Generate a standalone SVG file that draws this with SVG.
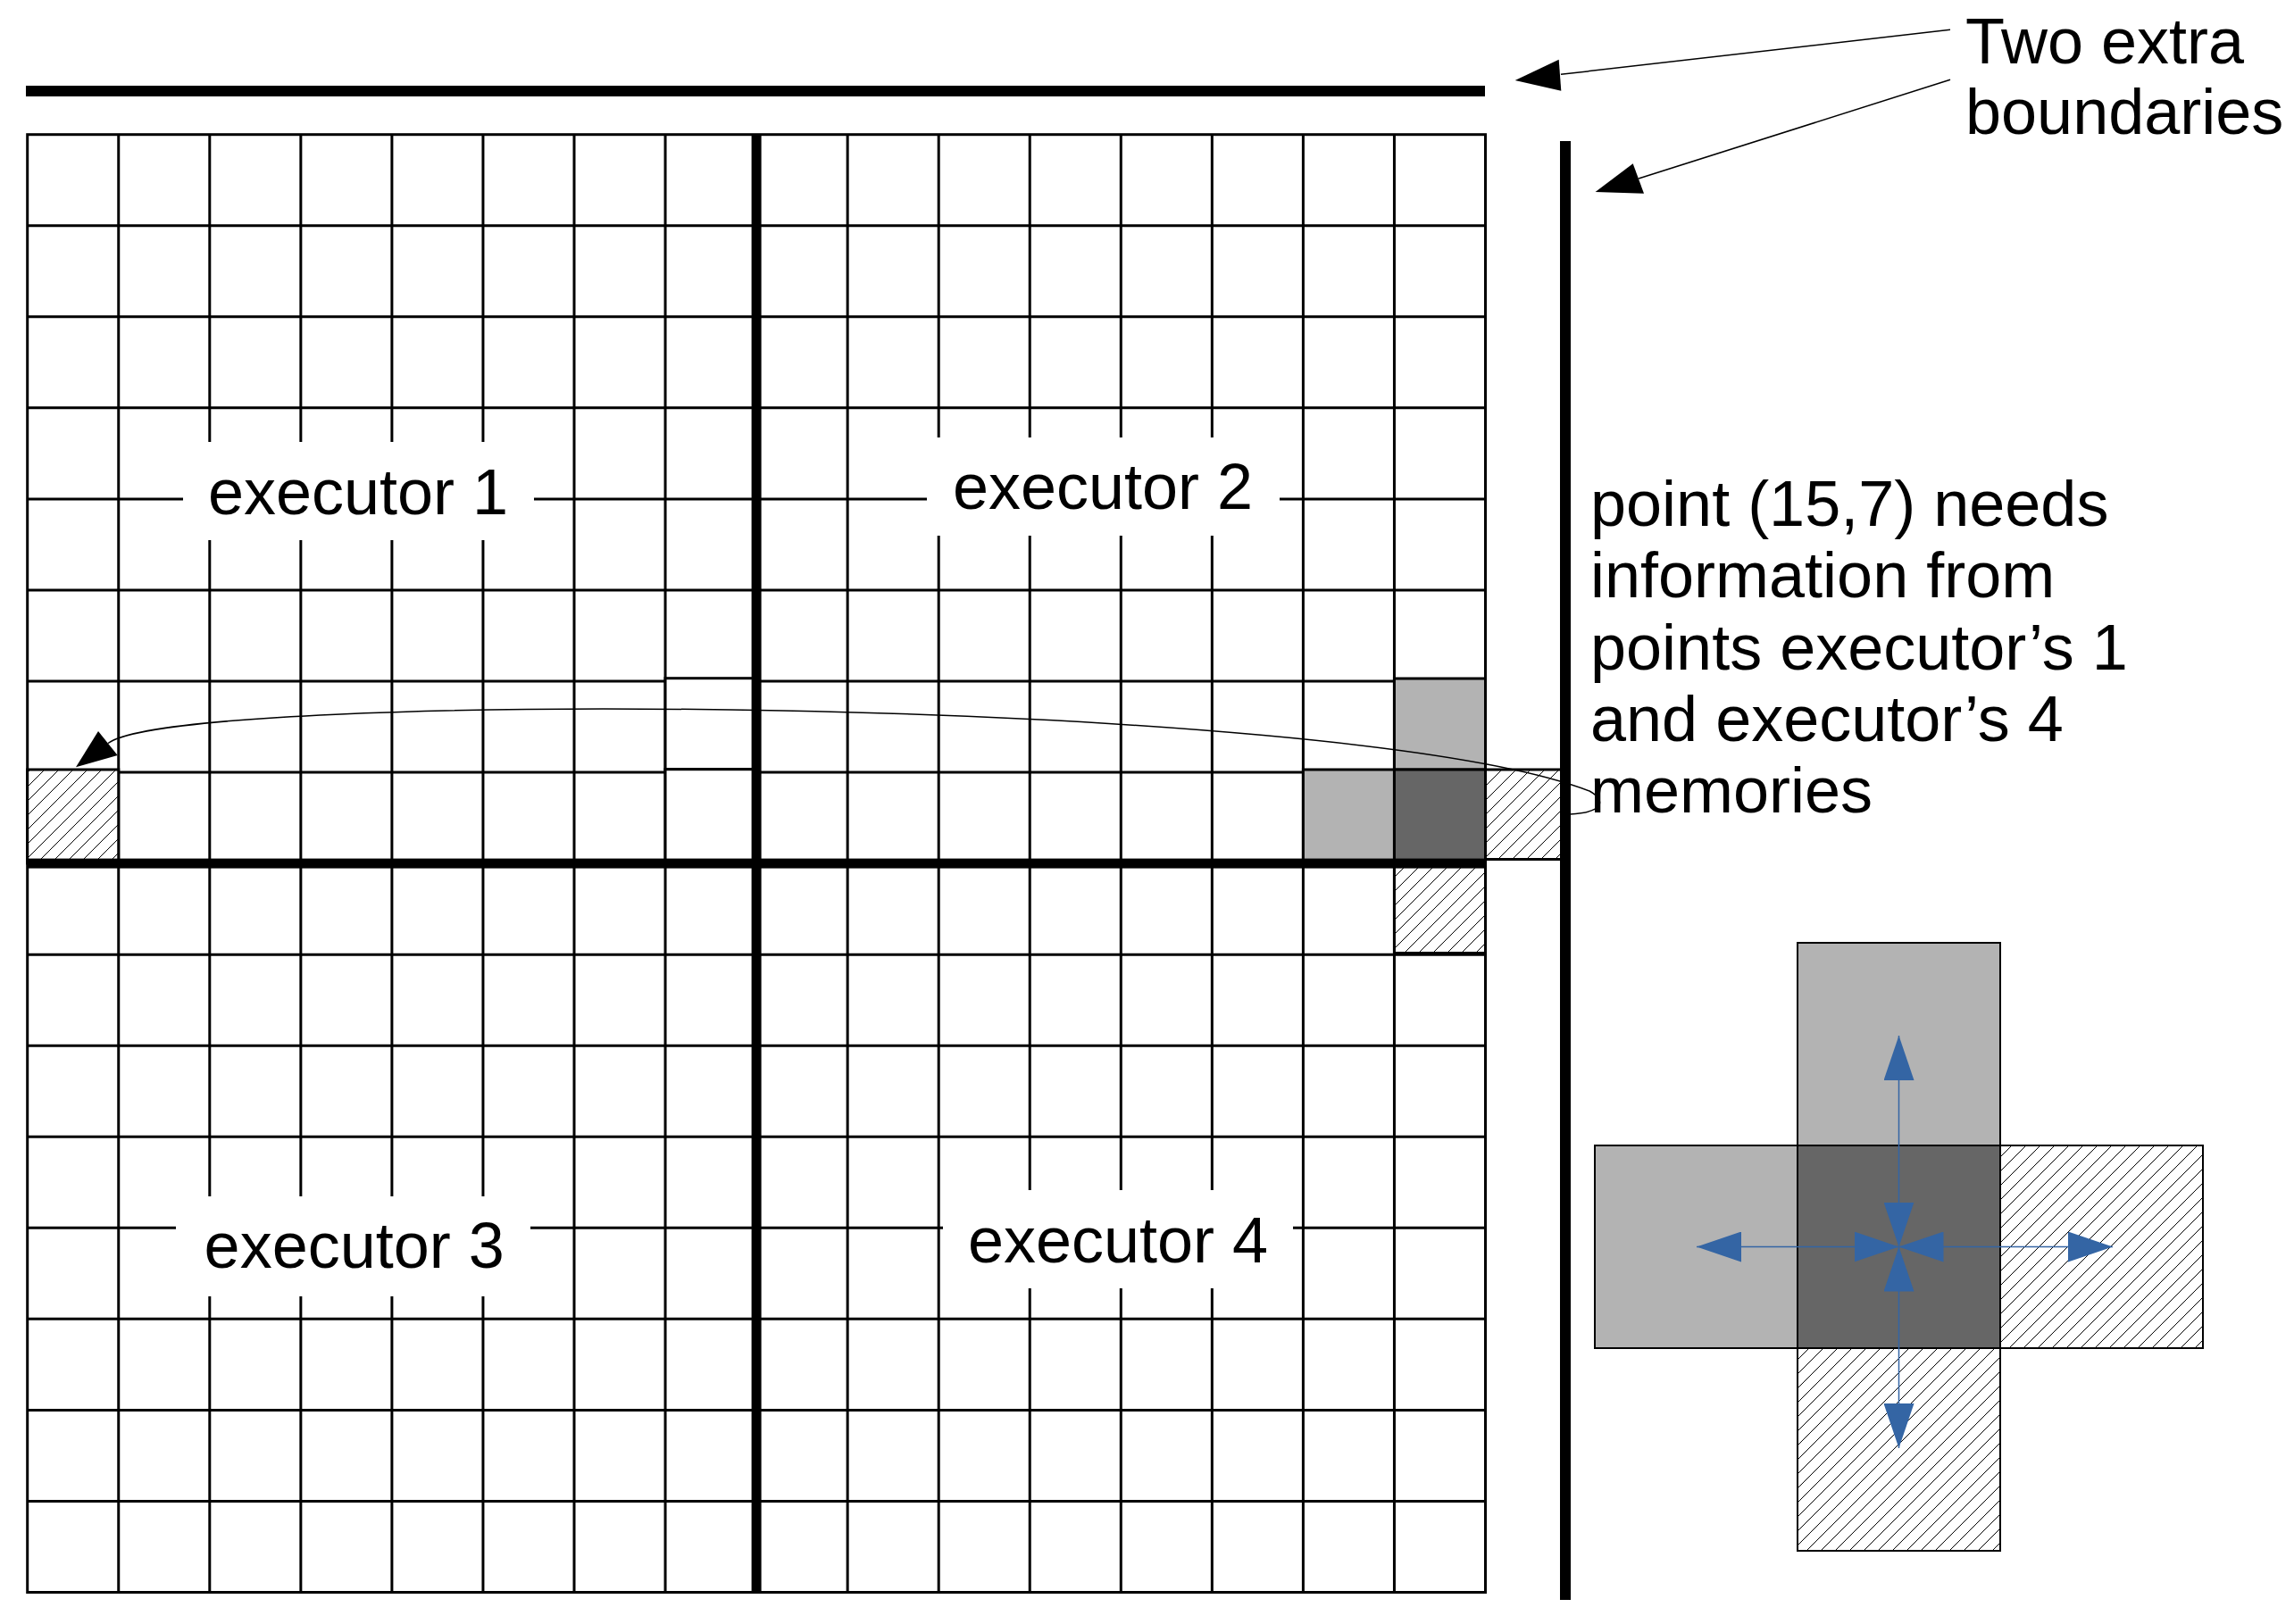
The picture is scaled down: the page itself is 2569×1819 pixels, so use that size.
<svg xmlns="http://www.w3.org/2000/svg" width="2569" height="1819" viewBox="0 0 2569 1819">
<style>
.t{font-family:"Liberation Sans",Arial,sans-serif;font-size:72px;fill:#000}
.grid{fill:none;stroke:#000;stroke-width:3}
.cell{stroke:#000;stroke-width:3}
.lg{fill:#b3b3b3}
.dg{fill:#666666}
.wh{fill:#fff}
.ht{fill:url(#hatch)}
.thin{fill:none;stroke:#000;stroke-width:1.5}
.blue{fill:none;stroke:#3465a4;stroke-width:1.5;marker-start:url(#bh);marker-end:url(#bh)}
.xc{stroke:#000;stroke-width:2}
</style>
<defs>
<pattern id="hatch" patternUnits="userSpaceOnUse" width="16" height="16">
<rect width="16" height="16" fill="#fff"/>
<path d="M-4,4 L4,-4 M0,16 L16,0 M12,20 L20,12" stroke="#000" stroke-width="1"/>
</pattern>
<marker id="bh" viewBox="0 0 50 34" refX="50" refY="17" markerWidth="50" markerHeight="34" markerUnits="userSpaceOnUse" orient="auto-start-reverse">
<path d="M0,0 L50,17 L0,34 z" fill="#3465a4"/>
</marker>
</defs>
<rect width="2569" height="1819" fill="#fff"/>

<g id="grid">
<rect class="grid" x="30.7" y="150.7" width="1632.8" height="1632.8"/>
<path class="grid" d="M132.75 150.7V1783.5M234.8 150.7V1783.5M336.85 150.7V1783.5M438.9 150.7V1783.5M540.95 150.7V1783.5M643 150.7V1783.5M745.05 150.7V1783.5M949.15 150.7V1783.5M1051.2 150.7V1783.5M1153.25 150.7V1783.5M1255.3 150.7V1783.5M1357.35 150.7V1783.5M1459.4 150.7V1783.5M1561.45 150.7V1783.5
M30.7 252.75H1663.5M30.7 354.8H1663.5M30.7 456.85H1663.5M30.7 558.9H1663.5M30.7 660.95H1663.5M30.7 763H1663.5M30.7 865.05H1663.5M30.7 1069.15H1663.5M30.7 1171.2H1663.5M30.7 1273.25H1663.5M30.7 1375.3H1663.5M30.7 1477.35H1663.5M30.7 1579.4H1663.5M30.7 1681.45H1663.5"/>
</g>

<g id="cells">
<rect class="cell wh" x="745.05" y="759.7" width="102.05" height="102"/>
<rect class="cell wh" x="745.05" y="861.7" width="102.05" height="102"/>
<rect class="cell ht" x="30.7" y="862" width="102.05" height="105"/>
<rect class="cell lg" x="1561.45" y="760" width="102.05" height="102"/>
<rect class="cell lg" x="1459.4" y="862" width="102.05" height="104"/>
<rect class="cell dg" x="1561.45" y="862" width="102.05" height="104"/>
<rect class="cell ht" x="1663.5" y="862" width="86" height="100.5"/>
<rect class="cell ht" x="1561.45" y="967" width="102.05" height="100.5"/>
</g>

<g id="boundaries">
<rect x="841.6" y="150.7" width="11" height="1632.8" fill="#000"/>
<rect x="30.7" y="961.6" width="1632.8" height="11" fill="#000"/>
<rect id="extra-top" x="29" y="96" width="1634" height="12" fill="#000"/>
<rect id="extra-right" x="1747" y="158" width="12" height="1634" fill="#000"/>
</g>

<g id="executor1">
<rect x="205" y="495" width="393" height="110" fill="#fff"/>
<text class="t" x="401" y="575.7" text-anchor="middle">executor 1</text>
</g>
<g id="executor2">
<rect x="1038" y="490" width="395" height="110" fill="#fff"/>
<text class="t" x="1235" y="570" text-anchor="middle">executor 2</text>
</g>
<g id="executor3">
<rect x="197" y="1340" width="397" height="112" fill="#fff"/>
<text class="t" x="396.7" y="1420" text-anchor="middle">executor 3</text>
</g>
<g id="executor4">
<rect x="1056" y="1333" width="392" height="110" fill="#fff"/>
<text class="t" x="1252" y="1414" text-anchor="middle">executor 4</text>
</g>

<g id="label-boundaries">
<text class="t" x="2201" y="71">Two extra</text>
<text class="t" x="2201" y="150">boundaries</text>
</g>

<g id="label-point">
<text class="t" x="1781" y="589">point (15,7) needs</text>
<text class="t" x="1781" y="669.3">information from</text>
<text class="t" x="1781" y="749.6">points executor’s 1</text>
<text class="t" x="1781" y="829.9">and executor’s 4</text>
<text class="t" x="1781" y="910.2">memories</text>
</g>

<g id="stencil">
<rect class="xc lg" x="2013" y="1056" width="227" height="227"/>
<rect class="xc lg" x="1786" y="1283" width="227" height="227"/>
<rect class="xc dg" x="2013" y="1283" width="227" height="227"/>
<rect class="xc ht" x="2240" y="1283" width="227" height="227"/>
<rect class="xc ht" x="2013" y="1510" width="227" height="227"/>
</g>

<g id="connectors">
<path class="thin" d="M2184,33.3 L1748,83.3"/>
<polygon points="1696.7,90 1745.7,66.7 1748.3,101.7" fill="#000"/>
<path class="thin" d="M2184,89.3 L1835,200"/>
<polygon points="1786.6,215 1828.7,183.3 1841,216.7" fill="#000"/>
<path class="thin" d="M1758,912 C1795,910 1800,897 1780,886 C1501,778 203,772 121,832.5"/>
<polygon points="85,859.3 110,819 131.7,846" fill="#000"/>
<path class="blue" d="M2126.5,1396.5 L2126.5,1160"/>
<path class="blue" d="M2126.5,1396.5 L2126.5,1622"/>
<path class="blue" d="M2126.5,1396.5 L1900,1396.5"/>
<path class="blue" d="M2126.5,1396.5 L2366,1396.5"/>
</g>
</svg>
